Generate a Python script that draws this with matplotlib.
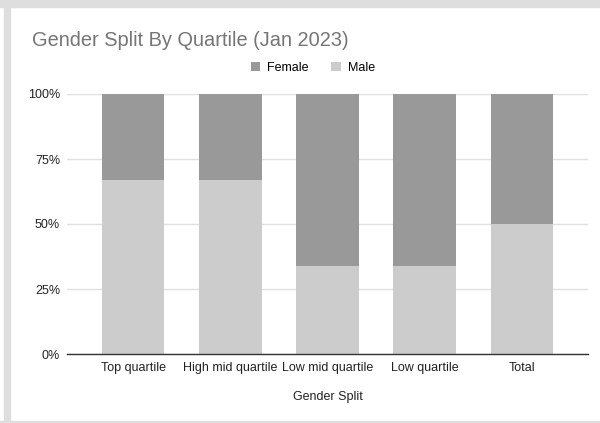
import matplotlib.pyplot as plt
from matplotlib.patches import Rectangle
from matplotlib.ticker import PercentFormatter

plt.rcParams['font.family'] = ['Liberation Sans', 'DejaVu Sans']

categories = ['Top quartile', 'High mid quartile', 'Low mid quartile', 'Low quartile', 'Total']
male = [67, 67, 34, 34, 50]
female = [33, 33, 66, 66, 50]
yticks = [0, 25, 50, 75, 100]

female_color = '#999999'
male_color = '#cccccc'

fig = plt.figure(figsize=(6, 4.23), dpi=100)
ax = fig.add_axes([67 / 600, 1 - 354 / 423, 521 / 600, 260 / 423])

x = range(len(categories))
bars_male = ax.bar(x, male, width=0.645, color=male_color, zorder=2)
bars_female = ax.bar(x, female, width=0.645, bottom=male, color=female_color, zorder=2)

ax.set_xlim(-0.68, len(categories) - 1 + 0.68)
ax.set_ylim(0, 100)
ax.set_yticks(yticks)
ax.yaxis.set_major_formatter(PercentFormatter(decimals=0))
ax.set_xticks(list(x))
ax.set_xticklabels(categories)
ax.tick_params(axis='both', length=0, labelsize=9, colors='#222222')
ax.tick_params(axis='x', pad=6)
ax.tick_params(axis='y', pad=5)
ax.grid(axis='y', color='#e0e0e0', linewidth=1, zorder=0)

for side in ['top', 'right', 'left']:
    ax.spines[side].set_visible(False)
ax.spines['bottom'].set_color('#333333')
ax.spines['bottom'].set_linewidth(1)
ax.spines['bottom'].set_zorder(3)

ax.set_xlabel('Gender Split', fontsize=9, color='#222222', labelpad=12)

fig.text(32 / 600, 1 - 40 / 423, 'Gender Split By Quartile (Jan 2023)',
         fontsize=14.4, color='#757575', va='center', ha='left')

fig.legend([bars_female, bars_male], ['Female', 'Male'], loc='center',
           bbox_to_anchor=(313 / 600, 1 - 68 / 423), ncol=2, frameon=False,
           fontsize=9, handlelength=0.75, handleheight=0.75,
           handletextpad=0.6, columnspacing=1.8)

# light grey frame around the screenshot
border = '#dedede'
fig.patches.append(Rectangle((0, 1 - 7 / 423), 1, 7 / 423, transform=fig.transFigure,
                             color=border, zorder=0))
fig.patches.append(Rectangle((4 / 600, 0), 6 / 600, 1, transform=fig.transFigure,
                             color=border, zorder=0))
fig.patches.append(Rectangle((0, 0), 1, 2 / 423, transform=fig.transFigure,
                             color=border, zorder=0))

fig.savefig('out.png', dpi=100)
